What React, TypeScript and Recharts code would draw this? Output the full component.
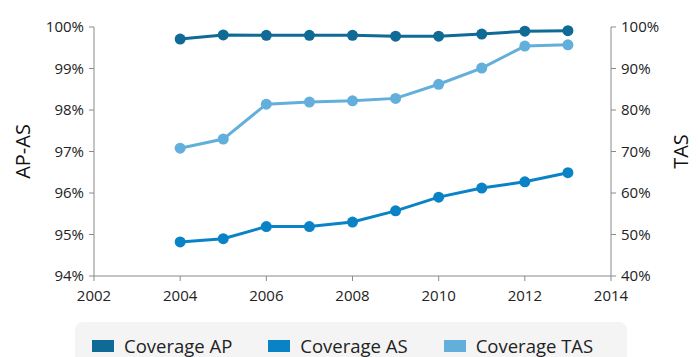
import { LineChart, Line, XAxis, YAxis } from 'recharts';

const years = [2004, 2005, 2006, 2007, 2008, 2009, 2010, 2011, 2012, 2013];
const coverageAP = [99.71, 99.81, 99.8, 99.8, 99.8, 99.78, 99.78, 99.83, 99.9, 99.91];
const coverageAS = [94.82, 94.9, 95.19, 95.19, 95.3, 95.57, 95.9, 96.12, 96.27, 96.49];
const coverageTAS = [70.8, 73.0, 81.4, 81.9, 82.2, 82.8, 86.2, 90.1, 95.4, 95.7];

const xTicks = [2002, 2004, 2006, 2008, 2010, 2012, 2014];
const leftTicks = [94, 95, 96, 97, 98, 99, 100];
const rightTicks = [40, 50, 60, 70, 80, 90, 100];

const series = [
  { key: 'ap', name: 'Coverage AP', color: '#0f6a96', axis: 'left' },
  { key: 'as', name: 'Coverage AS', color: '#0a83c6', axis: 'left' },
  { key: 'tas', name: 'Coverage TAS', color: '#63afdb', axis: 'right' },
];

const data = years.map((year, i) => ({
  year,
  ap: coverageAP[i],
  as: coverageAS[i],
  tas: coverageTAS[i],
}));

const font = '"Open Sans", Lato, sans-serif';
const tickStyle = { fill: '#222', fontSize: 15, fontFamily: font };

function LegendBox() {
  return (
    <div
      style={{
        position: 'absolute',
        left: 75,
        top: 322,
        width: 552,
        height: 50,
        background: '#f4f4f4',
        borderRadius: 8,
        display: 'flex',
        alignItems: 'flex-start',
        paddingTop: 13,
        boxSizing: 'border-box',
        fontFamily: font,
        fontSize: 18.5,
        color: '#222',
      }}
    >
      {series.map((s, i) => (
        <div
          key={s.key}
          style={{
            display: 'flex',
            alignItems: 'center',
            marginLeft: i === 0 ? 17 : 36,
          }}
        >
          <span style={{ width: 22, height: 12, background: s.color, marginRight: 10, display: 'inline-block' }} />
          <span style={{ lineHeight: '22px' }}>{s.name}</span>
        </div>
      ))}
    </div>
  );
}

export default function App() {
  return (
    <div style={{ position: 'absolute', left: 0, top: 0, width: 698, height: 357, overflow: 'hidden', background: '#fff' }}>
      <LineChart width={698} height={357} data={data} margin={{ top: 27, right: 27, left: 34, bottom: 51 }}>
        <XAxis
          dataKey="year"
          type="number"
          domain={[2002, 2014]}
          ticks={xTicks}
          stroke="#8a8a8a"
          tick={tickStyle}
          tickSize={5}
          tickMargin={9}
          height={30}
        />
        <YAxis
          yAxisId="left"
          domain={[94, 100]}
          ticks={leftTicks}
          stroke="#8a8a8a"
          tick={tickStyle}
          tickSize={5}
          tickMargin={5}
          width={60}
          tickFormatter={(v) => `${v}%`}
          label={{
            content: ({ viewBox }: any) => {
              const x = viewBox.x - 12;
              const y = viewBox.y + viewBox.height / 2;
              return (
                <text x={x} y={y} transform={`rotate(-90 ${x} ${y})`} textAnchor="middle" dominantBaseline="central" fill="#111" fontSize={20} fontFamily={font}>
                  AP-AS
                </text>
              );
            },
          }}
        />
        <YAxis
          yAxisId="right"
          orientation="right"
          domain={[40, 100]}
          ticks={rightTicks}
          stroke="#8a8a8a"
          tick={tickStyle}
          tickSize={5}
          tickMargin={5}
          width={60}
          tickFormatter={(v) => `${v}%`}
          label={{
            content: ({ viewBox }: any) => {
              const x = viewBox.x + viewBox.width + 9;
              const y = viewBox.y + viewBox.height / 2;
              return (
                <text x={x} y={y} transform={`rotate(-90 ${x} ${y})`} textAnchor="middle" dominantBaseline="central" fill="#111" fontSize={20} fontFamily={font}>
                  TAS
                </text>
              );
            },
          }}
        />
        {series.map((s) => (
          <Line
            key={s.key}
            yAxisId={s.axis}
            dataKey={s.key}
            name={s.name}
            stroke={s.color}
            strokeWidth={3}
            dot={{ r: 5.5, fill: s.color, stroke: s.color, strokeWidth: 0 }}
            isAnimationActive={false}
          />
        ))}
      </LineChart>
      <LegendBox />
    </div>
  );
}
